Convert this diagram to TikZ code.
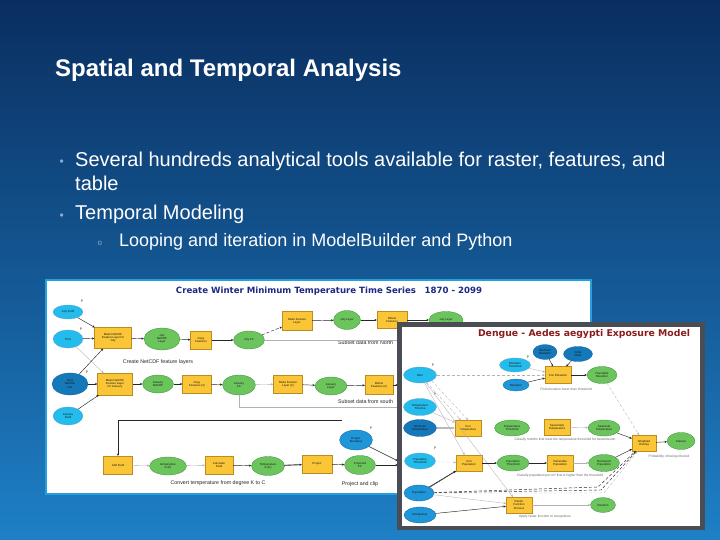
\documentclass[tikz,border=0pt]{standalone}
\usepackage{fontspec}
\usepackage{graphicx}
\setmainfont{Liberation Sans}
\newfontfamily\verd{DejaVu Sans}
\usetikzlibrary{shapes.geometric,arrows.meta}
\definecolor{bgtop}{RGB}{10,46,96}
\definecolor{bgmid}{RGB}{16,82,145}
\definecolor{bgbot}{RGB}{30,128,198}
\definecolor{bulc}{RGB}{140,172,208}
\definecolor{frameA}{RGB}{38,160,220}
\definecolor{frameB}{RGB}{74,78,84}
\definecolor{tyellow}{RGB}{250,197,55}
\definecolor{tedge}{RGB}{190,140,30}
\definecolor{dgreen}{RGB}{108,196,92}
\definecolor{dgedge}{RGB}{60,140,60}
\definecolor{icyan}{RGB}{36,188,236}
\definecolor{imed}{RGB}{30,150,215}
\definecolor{idark}{RGB}{20,120,185}
\definecolor{iedge}{RGB}{20,100,160}
\definecolor{t1blue}{RGB}{30,40,130}
\definecolor{t2red}{RGB}{140,28,28}
\begin{document}
\begin{tikzpicture}[x=1pt,y=-1pt,
  sz/.style 2 args={minimum width=#1,minimum height=#2},
  base/.style={inner sep=0pt,outer sep=0pt,line width=0.3pt,align=center,text=black!90,font=\fontsize{2.9}{3.2}\selectfont},
  tool/.style={base,rectangle,fill=tyellow,draw=tedge},
  data/.style={base,ellipse,fill=dgreen,draw=dgedge},
  inc/.style={base,ellipse,fill=icyan,draw=iedge!60},
  inm/.style={base,ellipse,fill=imed,draw=iedge},
  ind/.style={base,ellipse,fill=idark,draw=iedge},
  ar/.style={-{Stealth[length=2.6pt,width=2.2pt]},line width=0.45pt,draw=black!85},
  gar/.style={ar,draw=gray!60,line width=0.35pt},
  gline/.style={draw=gray!60,line width=0.4pt},
  note/.style={inner sep=0pt,font=\fontsize{5.3}{6}\selectfont,text=black!85},
  snote/.style={inner sep=0pt,font=\fontsize{3.3}{4}\selectfont,text=black!60},
  pmark/.style={inner sep=0pt,font=\fontsize{3.5}{4}\selectfont,text=black!80},
  slide/.style={inner sep=0pt,anchor=base west,text=white},
]
\useasboundingbox (0,0) rectangle (720,540);
\shade[top color=bgtop,middle color=bgmid,bottom color=bgbot] (0,0) rectangle (720,540);

% ---------- slide text ----------
\node[slide,font=\fontsize{24}{28}\selectfont\bfseries] (title) at (55,77) {Spatial and Temporal Analysis};
\node[slide,text=bulc,font=\fontsize{12}{14}\selectfont] (b1) at (59.5,166) {•};
\node[slide,font=\fontsize{20}{23}\selectfont] (l1) at (75,167) {Several hundreds analytical tools available for raster, features, and};
\node[slide,font=\fontsize{20}{23}\selectfont] (l1b) at (75,191) {table};
\node[slide,text=bulc,font=\fontsize{12}{14}\selectfont] (b2) at (59.5,219) {•};
\node[slide,font=\fontsize{20}{23}\selectfont] (l2) at (75,220) {Temporal Modeling};
\node[slide,text=bulc,font=\fontsize{8}{9}\selectfont] (b3) at (97.5,245) {o};
\node[slide,font=\fontsize{18}{21}\selectfont] (l3) at (119,246) {Looping and iteration in ModelBuilder and Python};

% ---------- screenshot 1 ----------
\fill[white] (45,279) rectangle (592,495);
\draw[frameA,line width=2.2pt] (46.1,280.1) rectangle (590.9,493.9);
\node[inner sep=0pt,text=t1blue] (t1) at (329,291) {\resizebox{306pt}{!}{\verd\bfseries Create Winter Minimum Temperature Time Series\quad 1870 - 2099}};

\node[inc,sz={30}{14}] (jf) at (68,312) {July Field};
\node[inc,sz={30}{18}] (time) at (68,339) {Time};
\node[ind,sz={36}{22}] (inp) at (70,384) {Input\\NetCDF\\File};
\node[inc,sz={30}{18}] (janf) at (68,416) {January\\Field};
\node[pmark] (p1) at (82,301) {P};
\node[pmark] (p2) at (81,329) {P};
\node[pmark] (p3) at (87,372) {P};

\node[tool,sz={37}{21}] (mkj) at (113,338) {Make NetCDF\\Feature Layer for\\July};
\node[data,sz={36}{22}] (jnl) at (162,339) {July\\NetCDF\\Layer};
\node[tool,sz={21}{18}] (cf) at (201,340) {Copy\\Features};
\node[data,sz={31}{18}] (jfc) at (249,340) {July FC};
\node[tool,sz={30}{19}] (mfl) at (297,321) {Make Feature\\Layer};
\node[data,sz={27}{19}] (jl) at (347,320) {July Layer};
\node[tool,sz={30}{17}] (df) at (392,320) {Delete\\Features};
\node[data,sz={34}{17}] (jl2) at (446,320) {July Layer};

\node[tool,sz={35}{22}] (mkjan) at (115,384) {Make NetCDF\\Feature Layer\\for January};
\node[data,sz={31}{18}] (jann) at (158,384) {January\\NetCDF};
\node[tool,sz={29}{18}] (cf2) at (197,384) {Copy\\Features (2)};
\node[data,sz={33}{20}] (janfc) at (239,385) {January\\FC};
\node[tool,sz={29}{18}] (mfl2) at (288,384) {Make Feature\\Layer (2)};
\node[data,sz={32}{18}] (janl) at (331,386) {January\\Layer};
\node[tool,sz={28}{19}] (df2) at (379,385) {Delete\\Features (2)};

\node[tool,sz={29}{18}] (af) at (118,465) {Add Field};
\node[data,sz={37}{18}] (tk) at (168,466) {temperature\\in (K)};
\node[tool,sz={28}{18}] (cfd) at (219,465) {Calculate\\Field};
\node[data,sz={33}{19}] (tc) at (268,466) {Temperature\\in (C)};
\node[tool,sz={30}{18}] (prj) at (317,464) {Project};
\node[data,sz={31}{19}] (pfc) at (360,465) {Projected\\FC};
\node[inm,sz={33}{20}] (pb) at (356,440) {Project\\Boundary};
\node[pmark] (p4) at (371,428) {P};

\node[note] (n1) at (158,362) {Create NetCDF feature layers};
\node[note,anchor=west] (n2) at (338,343) {Subset data from North};
\node[note,anchor=west] (n3) at (338,402) {Subset data from south};
\node[note] (n4) at (218,483) {Convert temperature from degree K to C};
\node[note] (n5) at (360,484) {Project and clip};

\coordinate (s1R) at (398,340);
\coordinate (s2R) at (398,407);
\coordinate (r2R) at (398,385);
\coordinate (loopR) at (342,420);
\coordinate (pbR) at (398,461);
\coordinate (pfcR) at (398,465);

\draw[ar] (jf) -- (mkj);
\draw[ar] (time) -- (mkj);
\draw[gar] (time) -- (mkjan);
\draw[ar] (inp) -- (mkj);
\draw[ar] (inp) -- (mkjan);
\draw[ar] (janf) -- (mkjan);
\draw[ar] (mkj) -- (jnl);
\draw[ar] (jnl) -- (cf);
\draw[ar,line width=0.7pt] (cf) -- (jfc);
\draw[ar,densely dashed] (jfc) -- (mfl);
\draw[ar] (mfl) -- (jl);
\draw[ar] (jl) -- (df);
\draw[ar] (df) -- (jl2);
\draw[gline] (jfc) -- (s1R);
\draw[ar] (mkjan) -- (jann);
\draw[ar] (jann) -- (cf2);
\draw[ar] (cf2) -- (janfc);
\draw[gar] (janfc) -- (mfl2);
\draw[ar] (mfl2) -- (janl);
\draw[ar] (janl) -- (df2);
\draw[ar] (df2) -- (r2R);
\draw[gline] (janfc) |- (s2R);
\draw[ar] (loopR) -| (af);
\draw[gar] (af) -- (tk);
\draw[gar] (tk) -- (cfd);
\draw[ar] (cfd) -- (tc);
\draw[ar,line width=0.9pt] (tc) -- (prj);
\draw[ar] (prj) -- (pfc);
\draw[ar] (pfc) -- (pfcR);
\draw[ar] (pb) -- (pbR);

% ---------- screenshot 2 ----------
\fill[frameB] (397,322) rectangle (705,530);
\fill[white] (401.5,326.5) rectangle (699.5,525.5);
\node[inner sep=0pt,text=t2red] (t2) at (584,334) {\resizebox{212pt}{!}{\verd\bfseries Dengue - Aedes aegypti Exposure Model}};

\node[inc,sz={33}{16}] (rain) at (420,375) {Rain};
\node[inc,sz={33}{17}] (ttl) at (420,407) {Temperature\\Timeline};
\node[ind,sz={33}{17}] (mint) at (420,428) {Minimum\\Temperature};
\node[inc,sz={31}{16}] (popth) at (420,461) {Population\\Threshold};
\node[inm,sz={30}{16}] (pop) at (419,493) {Population};
\node[inm,sz={32}{16}] (mosq) at (420,515) {Mosquitoes};
\node[pmark] (q1) at (433,365) {P};
\node[pmark] (q2) at (435,394) {P};
\node[pmark] (q3) at (435,448) {P};
\node[pmark] (q4) at (528,357) {P};

\node[inc,sz={31}{14}] (elth) at (515,365) {Elevation\\Threshold};
\node[inm,sz={26}{12}] (elev) at (516,385) {Elevation};
\node[ind,sz={24}{15}] (minel) at (545,352) {Minimum\\Elevation};
\node[ind,sz={29}{15}] (inst) at (578,354) {Initial\\State};
\node[tool,sz={26}{17}] (celev) at (558,375) {Con Elevation};
\node[data,sz={30}{17}] (fav) at (602,375) {Favorable\\Elevation};

\node[tool,sz={26}{16}] (ctemp) at (468,428) {Con\\Temperature};
\node[data,sz={35}{16}] (tth) at (512,428) {Temperature\\Threshold};
\node[tool,sz={26}{16}] (stemp) at (557,427) {Seasonally\\Temperature};
\node[data,sz={32}{16}] (seat) at (604,428) {Seasonal\\Temperature};

\node[tool,sz={26}{16}] (cpop) at (469,463) {Con\\Population};
\node[data,sz={32}{16}] (pthg) at (513,463) {Population\\Threshold};
\node[tool,sz={26}{16}] (vpop) at (560,463) {Vulnerable\\Population};
\node[data,sz={31}{17}] (rpop) at (604,463) {Reclassed\\Population};

\node[tool,sz={26}{16}] (rfp) at (519,505) {Raster\\Function\\Process};
\node[data,sz={25}{15}] (rand) at (603,505) {Random};
\node[tool,sz={24}{16}] (wo) at (644,443) {Weighted\\Overlay};
\node[data,sz={28}{17}] (cls) at (681,441) {Classes};

\node[snote] (m1) at (566,389) {Find elevation lower than threshold};
\node[snote] (m2) at (565,440) {Classify months that meet the temperature threshold for transmission};
\node[snote] (m3) at (560,476) {Classify population per mi² that is higher than the threshold};
\node[snote] (m4) at (669,457) {Probability of being infected};
\node[snote] (m5) at (545,517) {Apply raster function to mosquitoes};

\coordinate (pw1) at (598,487);
\coordinate (pw2) at (601,490);
\coordinate (pw3) at (604,493);

\draw[gar,densely dashed] (rain) -- (celev);
\draw[gar] (elth) -- (celev);
\draw[ar] (elev) -- (celev);
\draw[ar] (minel) -- (celev);
\draw[ar] (inst) -- (celev);
\draw[ar,line width=0.9pt] (celev) -- (fav);
\draw[gar,densely dashed] (fav) -- (wo);
\draw[gar,densely dashed] (rain) -- (ctemp);
\draw[gar,densely dashed] (rain.south east) -- (ctemp.north);
\draw[gar] (rain) -- (cpop);
\draw[gar] (rain) -- (rfp);
\draw[gar] (ttl) -- (ctemp);
\draw[gar,line width=1.6pt,draw=gray!55] (mint) -- (ctemp);
\draw[gar,densely dotted] (popth) -- (cpop);
\draw[ar] (pop.north east) -- (cpop);
\draw[ar] (pop) -- (cpop);
\draw[gar] (pop) -- (rfp);
\draw[ar] (mosq) -- (rfp);
\draw[ar] (cpop) -- (pthg);
\draw[ar,line width=0.9pt] (pthg) -- (vpop);
\draw[gar] (vpop) -- (rpop);
\draw[ar] (rpop) -- (wo);
\draw[gar] (stemp) -- (seat);
\draw[ar] (seat) -- (wo);
\draw[ar,densely dashed] (pop) -- (pw1) -- (wo);
\draw[ar,densely dashed] (pop) -- (pw2) -- (wo);
\draw[gar,densely dashed] (pop) -- (pw3) -- (wo);
\draw[gar] (rfp) -- (rand);
\draw[ar] (wo) -- (cls);
\end{tikzpicture}
\end{document}
